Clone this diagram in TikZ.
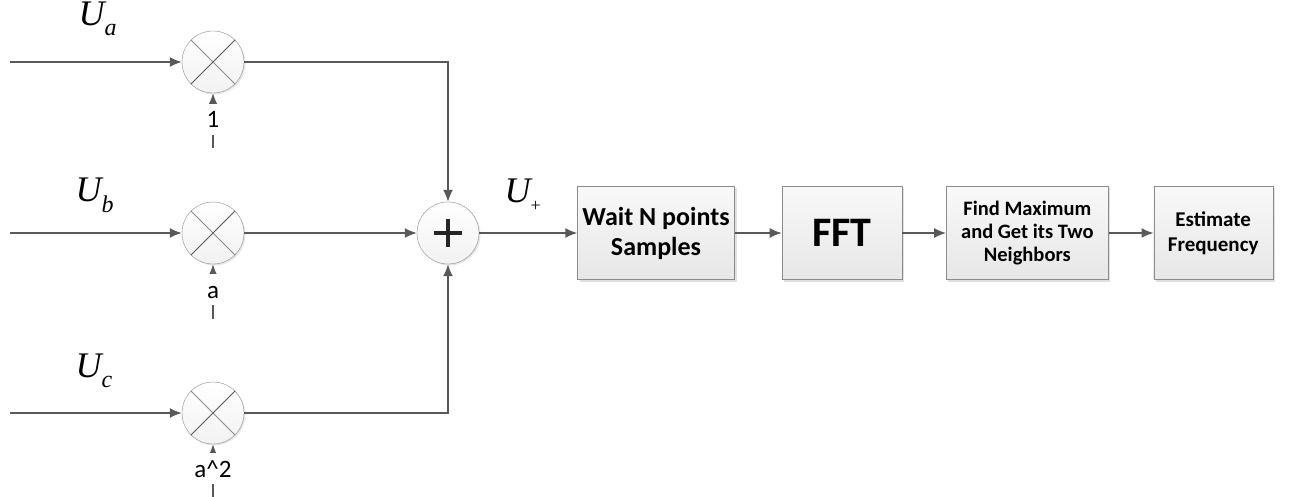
\documentclass[tikz,border=0pt]{standalone}
\usepackage{fontspec}
\setmainfont{Carlito}
\newfontfamily\timesfont{Liberation Serif}
\usetikzlibrary{arrows.meta, positioning, shadows}
\definecolor{linegray}{HTML}{595959}
\definecolor{edgegray}{HTML}{8c8c8c}
\definecolor{boxfill}{HTML}{f2f2f2}
\newcommand{\phasor}[1]{{\timesfont\itshape\fontsize{36}{36}\selectfont U}\raisebox{-10pt}{\timesfont\itshape\fontsize{24}{24}\selectfont #1}}

\begin{document}
\begin{tikzpicture}[
  x=1pt, y=-1pt,
  mult/.style={circle, draw=edgegray, top color=white, bottom color=boxfill, minimum size=62pt, inner sep=0pt, drop shadow={shadow xshift=1.5pt, shadow yshift=-1.5pt, opacity=0.2}},
  blockbox/.style={rectangle, draw=edgegray, top color=white!50!boxfill, bottom color=boxfill!90!gray, minimum height=93pt, align=center, inner sep=2pt, font=\fontsize{26}{30}\selectfont\bfseries, drop shadow={shadow xshift=2pt, shadow yshift=-2pt, opacity=0.25}},
  gain/.style={fill=white, inner xsep=2pt, inner ysep=7pt, text height=17pt, text depth=0pt, font=\fontsize{25}{25}\selectfont},
  arr/.style={-{Latex[length=12pt, width=10pt]}, line width=1.6pt, color=linegray},
]
\useasboundingbox (0,0) rectangle (1311,497);

% multipliers and summer
\node[mult] (ma) at (213,62) {};
\node[mult] (mb) at (213,233) {};
\node[mult] (mc) at (213,413) {};
\foreach \m in {ma, mb, mc} {
  \draw[edgegray, line width=0.8pt] (\m.north west) -- (\m.south east);
  \draw[linegray, line width=0.9pt] (\m.south west) -- (\m.north east);
}
\node[mult, path picture={
  \draw[line width=4.5pt, black!85] ([xshift=-14pt]path picture bounding box.center) -- ([xshift=14pt]path picture bounding box.center);
  \draw[line width=4.5pt, black!85] ([yshift=-14pt]path picture bounding box.center) -- ([yshift=14pt]path picture bounding box.center);
}] (sum) at (448,233) {};

% inputs
\coordinate (ina) at (10,62);
\coordinate (inb) at (10,233);
\coordinate (inc) at (10,413);
\node[anchor=base west] (la) at (75,26) {\phasor{a}};
\node[anchor=base west] (lb) at (72,202) {\phasor{b}};
\node[anchor=base west] (lc) at (72,377) {\phasor{c}};
\draw[arr] (ina) -- (ma);
\draw[arr] (inb) -- (mb);
\draw[arr] (inc) -- (mc);

% gains
\coordinate (ta) at (213,148);
\coordinate (tb) at (213,319);
\coordinate (tc) at (213,497);
\draw[arr] (ta) -- (ma);
\draw[arr] (tb) -- (mb);
\draw[arr] (tc) -- (mc);
\node[gain, anchor=base] (ga) at (213,128) {1};
\node[gain, anchor=base] (gb) at (213,298) {a};
\node[gain, anchor=base] (gc) at (213,477) {a\^{}2};

% summing
\draw[arr] (ma) -| (sum);
\draw[arr] (mb) -- (sum);
\draw[arr] (mc) -| (sum);

% processing chain
\node[blockbox, minimum width=157pt] (wait) at (656,233) {Wait N points\\Samples};
\node[blockbox, minimum width=120pt, font=\fontsize{42}{44}\selectfont\bfseries, right=47pt of wait] (fft) {FFT};
\node[blockbox, minimum width=162pt, font=\fontsize{20.5}{23}\selectfont\bfseries, right=44pt of fft] (peak) {Find Maximum\\and Get its Two\\Neighbors};
\node[blockbox, minimum width=119pt, font=\fontsize{21}{25}\selectfont\bfseries, right=45pt of peak] (est) {Estimate\\Frequency};
\node[anchor=base west] (lp) at (501,203) {{\timesfont\itshape\fontsize{36}{36}\selectfont U}\raisebox{-9pt}{\timesfont\fontsize{18}{18}\selectfont +}};

\draw[arr] (sum) -- (wait);
\draw[arr] (wait) -- (fft);
\draw[arr] (fft) -- (peak);
\draw[arr] (peak) -- (est);
\end{tikzpicture}
\end{document}
